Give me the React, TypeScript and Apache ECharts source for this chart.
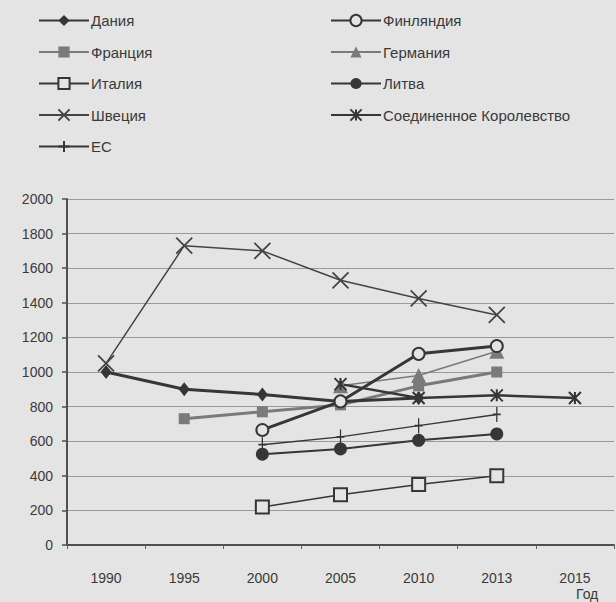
import React, { useEffect, useRef } from "react";
import * as echarts from "echarts";

const years = ["1990", "1995", "2000", "2005", "2010", "2013", "2015"];
const yMin = 0;
const yMax = 2000;
const yStep = 200;

const denmark = [1000, 900, 870, 830, 850, null, null];
const finland = [null, null, 665, 830, 1105, 1150, null];
const france = [null, 730, 770, 810, 920, 1000, null];
const germany = [null, null, null, 920, 980, 1120, null];
const italy = [null, null, 220, 290, 350, 400, null];
const lithuania = [null, null, 525, 555, 605, 642, null];
const sweden = [1050, 1730, 1700, 1530, 1425, 1330, null];
const uk = [null, null, null, 930, 850, 865, 850];
const eu = [null, null, 580, 625, 690, 755, null];

const BG = "#e4e4e4";
const DARK = "#363636";
const MID = "#7a7a7a";
const TEXT = "#3a3a3a";
const FONT = "Liberation Sans, Arial, sans-serif";

const X_PATH = "path://M0,0L12,12M12,0L0,12";
const STAR_PATH = "path://M6,0L6,12M0,0L12,12M12,0L0,12";
const PLUS_PATH = "path://M6,0L6,14M1,7L11,7";

export default function App() {
  const ref = useRef<HTMLDivElement>(null);

  useEffect(() => {
    if (!ref.current) return;
    const chart = echarts.init(ref.current, null, { renderer: "svg" });

    const mk = (
      name: string,
      data: (number | null)[],
      lineColor: string,
      lineWidth: number,
      symbol: string,
      symbolSize: number | number[],
      fill: string,
      stroke: string,
      borderWidth: number
    ) => ({
      name,
      type: "line",
      data,
      symbol,
      symbolSize,
      symbolKeepAspect: true,
      showSymbol: true,
      lineStyle: { color: lineColor, width: lineWidth },
      itemStyle: { color: fill, borderColor: stroke, borderWidth },
      emphasis: { disabled: true },
    });

    const legendCommon = {
      orient: "vertical",
      itemWidth: 50,
      itemHeight: 14,
      itemGap: 16.5,
      top: 8,
      textStyle: { fontSize: 15, color: TEXT, fontFamily: FONT, padding: [0, 0, 0, -3] },
      selectedMode: false,
    };

    chart.setOption({
      animation: false,
      backgroundColor: BG,
      legend: [
        { ...legendCommon, left: 33, data: ["Дания", "Франция", "Италия", "Швеция", "ЕС"] },
        { ...legendCommon, left: 325, data: ["Финляндия", "Германия", "Литва", "Соединенное Королевство"] },
      ],
      grid: { left: 67, right: 2, top: 199, bottom: 57, containLabel: false },
      xAxis: {
        type: "category",
        data: years,
        boundaryGap: true,
        axisLine: { lineStyle: { color: "#505050", width: 2 } },
        axisTick: { show: true, length: 4, inside: false, lineStyle: { color: "#606060", width: 1 } },
        axisLabel: { fontSize: 14, color: TEXT, margin: 26, fontFamily: FONT },
        splitLine: { show: false },
      },
      yAxis: {
        type: "value",
        min: yMin,
        max: yMax,
        interval: yStep,
        axisLine: { show: true, lineStyle: { color: "#505050", width: 2 } },
        axisTick: { show: true, length: 5, lineStyle: { color: "#505050", width: 1.5 } },
        axisLabel: {
          fontSize: 14,
          color: TEXT,
          margin: 14,
          fontFamily: FONT,
          formatter: (v: number) => String(v),
        },
        splitLine: { show: true, lineStyle: { color: "#9a9a9a", width: 1 } },
      },
      graphic: [
        {
          type: "text",
          left: 576,
          top: 587,
          style: { text: "Год", fontSize: 14, fill: TEXT, fontFamily: FONT },
        },
      ],
      series: [
        mk("Италия", italy, DARK, 1.5, "rect", 13, BG, DARK, 2),
        mk("Литва", lithuania, DARK, 2, "circle", 13, DARK, DARK, 0),
        mk("ЕС", eu, DARK, 1.5, PLUS_PATH, [11, 15], DARK, DARK, 1.5),
        mk("Франция", france, MID, 3, "rect", 11, MID, MID, 0),
        mk("Германия", germany, MID, 1.5, "triangle", 15, MID, MID, 0),
        mk("Соединенное Королевство", uk, DARK, 2.5, STAR_PATH, 12, DARK, DARK, 2),
        mk("Дания", denmark, DARK, 3, "diamond", [11, 14], DARK, DARK, 0),
        mk("Финляндия", finland, DARK, 3, "circle", 12, BG, DARK, 2),
        mk("Швеция", sweden, "#444444", 1.5, X_PATH, 16, "#444444", "#444444", 1.8),
      ],
    });

    return () => chart.dispose();
  }, []);

  return (
    <div
      ref={ref}
      style={{ position: "absolute", left: 0, top: 0, width: 616, height: 602 }}
    />
  );
}
